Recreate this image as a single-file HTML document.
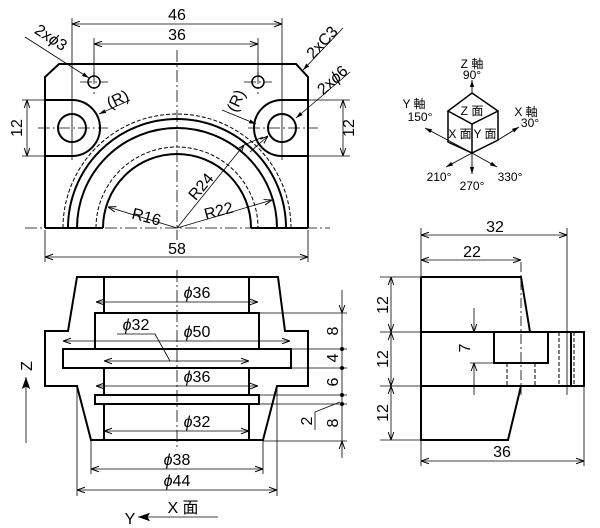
<!DOCTYPE html>
<html><head><meta charset="utf-8"><style>
html,body{margin:0;padding:0;background:#fff}
svg{display:block}
text{font-family:"Liberation Sans","Noto Sans CJK JP",sans-serif;fill:#000}
</style></head><body>
<svg width="600" height="528" viewBox="0 0 600 528" xmlns="http://www.w3.org/2000/svg">
<defs>
<marker id="a" viewBox="0 0 10 10" refX="10" refY="5" markerWidth="8" markerHeight="8" orient="auto-start-reverse" markerUnits="userSpaceOnUse"><path d="M0,1.5 L10,5 L0,8.5" fill="none" stroke="#000" stroke-width="1.2"/></marker>
<marker id="f" viewBox="0 0 10 10" refX="10" refY="5" markerWidth="12" markerHeight="12" orient="auto" markerUnits="userSpaceOnUse"><path d="M0,1.5 L10,5 L0,8.5 L2,5z" fill="#000"/></marker>
<marker id="s" viewBox="0 0 10 10" refX="10" refY="5" markerWidth="7" markerHeight="7" orient="auto" markerUnits="userSpaceOnUse"><path d="M0,2 L10,5 L0,8z" fill="#000"/></marker>
</defs>

<!-- ============ TOP VIEW ============ -->
<g fill="none" stroke="#000" stroke-width="2">
<path d="M45,228 L45,77 L59,64 L296,64 L308,77 L308,228"/>
<path d="M45,100 L72,100 A28,28 0 0 1 72,156 L45,156"/>
<path d="M308,100 L282,100 A28,28 0 0 0 282,156 L308,156"/>
<circle cx="72" cy="128" r="14"/>
<circle cx="282" cy="128" r="14"/>
<circle cx="94" cy="82" r="6" stroke-width="1.5"/>
<circle cx="258" cy="82" r="6" stroke-width="1.5"/>
<path d="M103,228 A74,74 0 0 1 251,228"/>
<path d="M77,228 A100,100 0 0 1 277,228"/>
<path d="M68,228 A109,109 0 0 1 286,228"/>
<path d="M45,228 L103,228 M251,228 L308,228"/>
</g>
<g fill="none" stroke="#000" stroke-width="1" stroke-dasharray="4,2">
<path d="M96,228 A81,81 0 0 1 258,228"/>
<path d="M63,228 A114,114 0 0 1 291,228"/>
</g>
<g fill="none" stroke="#000" stroke-width="0.8" stroke-dasharray="12,3,2,3">
<path d="M25,228 L330,228"/>
<path d="M177,50 L177,240"/>
<path d="M38,128 L108,128 M248,128 L318,128"/>
<path d="M80,82 L108,82 M244,82 L272,82 M94,72 L94,94 M258,72 L258,94"/>
</g>
<g fill="none" stroke="#000" stroke-width="0.8">
<path d="M72,18 L72,160 M282,18 L282,160"/>
<path d="M94,38 L94,76 M258,38 L258,76"/>
<path d="M72,24 L282,24" marker-start="url(#a)" marker-end="url(#a)"/>
<path d="M94,44 L258,44" marker-start="url(#a)" marker-end="url(#a)"/>
<path d="M45,230 L45,262 M308,230 L308,262"/>
<path d="M45,257 L308,257" marker-start="url(#a)" marker-end="url(#a)"/>
<path d="M22,100 L45,100 M22,156 L45,156 M308,100 L350,100 M308,156 L350,156"/>
<path d="M27,100 L27,156" marker-start="url(#a)" marker-end="url(#a)"/>
<path d="M343,100 L343,156" marker-start="url(#a)" marker-end="url(#a)"/>
<path d="M25,37 L89,78" marker-end="url(#s)"/>
<path d="M343,28 L303,70" marker-end="url(#s)"/>
<path d="M350,72 L296,118" marker-end="url(#s)"/>
<path d="M130,100 L99,114" marker-end="url(#s)"/>
<path d="M222,110 L256,124" marker-end="url(#s)"/>
<path d="M177,228 L244,145" marker-end="url(#a)"/>
<path d="M244,145 L263,137" />
<path d="M250,152 L268,136" marker-end="url(#a)"/>
<path d="M177,228 L108,207" marker-end="url(#a)"/>
<path d="M177,228 L272,200" marker-end="url(#a)"/>
</g>
<g font-size="16">
<text x="177" y="20" text-anchor="middle">46</text>
<text x="177" y="40" text-anchor="middle">36</text>
<text x="177" y="254" text-anchor="middle">58</text>
<text transform="translate(22,128) rotate(-90)" text-anchor="middle">12</text>
<text transform="translate(348,128) rotate(-90)" text-anchor="middle" dy="6">12</text>
<text transform="translate(48,42) rotate(33)" text-anchor="middle">2x<tspan font-style="italic">ϕ</tspan>3</text>
<text transform="translate(326,46) rotate(-47)" text-anchor="middle">2xC3</text>
<text transform="translate(336,84) rotate(-42)" text-anchor="middle">2x<tspan font-style="italic">ϕ</tspan>6</text>
<text transform="translate(120,104) rotate(-25)" text-anchor="middle">(R)</text>
<text transform="translate(241,103) rotate(-65)" text-anchor="middle">(R)</text>
<text transform="translate(205,190) rotate(-50)" text-anchor="middle">R24</text>
<text transform="translate(145,222) rotate(15)" text-anchor="middle">R16</text>
<text transform="translate(220,216) rotate(-15)" text-anchor="middle">R22</text>
</g>

<!-- ============ AXIS ICON ============ -->
<g fill="none" stroke="#000" stroke-width="1.5">
<path d="M472,93 L498,111 L472,124 L448,111 Z M448,111 L448,142 L472,153 L498,140 L498,111 M472,124 L472,153"/>
</g>
<g fill="none" stroke="#000" stroke-width="0.9">
<path d="M472,93 L472,80" marker-end="url(#s)"/>
<path d="M472,153 L425,128" marker-end="url(#s)"/>
<path d="M498,140 L519,127" marker-end="url(#s)"/>
<path d="M472,153 L446,167" marker-end="url(#s)"/>
<path d="M472,153 L497,167" marker-end="url(#s)"/>
<path d="M472,153 L472,174" marker-end="url(#s)"/>
</g>
<g font-size="12" text-anchor="middle">
<text x="472" y="68">Z 軸</text>
<text x="472" y="79">90°</text>
<text x="414" y="108">Y 軸</text>
<text x="420" y="121">150°</text>
<text x="526" y="116">X 軸</text>
<text x="530" y="127">30°</text>
<text x="472" y="115">Z 面</text>
<text x="460" y="138">X 面</text>
<text x="485" y="138">Y 面</text>
<text x="439" y="181">210°</text>
<text x="472" y="190">270°</text>
<text x="510" y="181">330°</text>
</g>

<!-- ============ FRONT VIEW ============ -->
<g fill="none" stroke="#000" stroke-width="2">
<path d="M77,277 L278,277 L285,331 L308,331 L308,386 L277,386 L263,440 L91,440 L77,386 L45,386 L45,331 L68,331 Z"/>
<path d="M104,277 L104,313 M249,277 L249,313"/>
<rect x="95" y="313" width="164" height="36"/>
<rect x="63" y="349" width="228" height="19"/>
<path d="M104,368 L104,395 M249,368 L249,395"/>
<rect x="95" y="395" width="164" height="9"/>
<path d="M104,404 L104,440 M249,404 L249,440"/>
</g>
<path d="M177,270 L177,448" stroke="#000" stroke-width="0.8" stroke-dasharray="12,3,2,3"/>
<g fill="none" stroke="#000" stroke-width="0.8">
<path d="M96,302 L258,302" marker-start="url(#a)" marker-end="url(#a)"/>
<path d="M63,341 L290,341" marker-start="url(#a)" marker-end="url(#a)"/>
<path d="M104,361 L249,361" marker-start="url(#a)" marker-end="url(#a)"/>
<path d="M96,386 L258,386" marker-start="url(#a)" marker-end="url(#a)"/>
<path d="M104,431 L249,431" marker-start="url(#a)" marker-end="url(#a)"/>
<path d="M91,440 L91,474 M263,440 L263,474 M77,386 L77,496 M277,386 L277,496"/>
<path d="M91,469 L263,469" marker-start="url(#a)" marker-end="url(#a)"/>
<path d="M77,490 L277,490" marker-start="url(#a)" marker-end="url(#a)"/>
<path d="M117,334 L155,334 L170,361"/>
<path d="M259,313 L347,313 M291,349 L347,349 M291,368 L347,368 M259,395 L347,395 M259,404 L347,404 M263,441 L347,441"/>
<path d="M342,290 L342,313" marker-end="url(#a)"/>
<path d="M342,458 L342,441" marker-end="url(#a)"/>
<path d="M342,313 L342,441"/>
<path d="M315,430 L315,412 L340,402"/>
<path d="M26,443 L26,377" marker-end="url(#f)"/>
<path d="M218,517 L138,517" marker-end="url(#f)"/>
</g>
<g fill="#000"><circle cx="342" cy="349" r="2"/><circle cx="342" cy="368" r="2"/><circle cx="342" cy="395" r="2"/><circle cx="342" cy="404" r="2"/></g>
<g font-size="16" text-anchor="middle">
<text x="197" y="298"><tspan font-style="italic">ϕ</tspan>36</text>
<text x="197" y="337"><tspan font-style="italic">ϕ</tspan>50</text>
<text x="136" y="330"><tspan font-style="italic">ϕ</tspan>32</text>
<text x="197" y="382"><tspan font-style="italic">ϕ</tspan>36</text>
<text x="197" y="427"><tspan font-style="italic">ϕ</tspan>32</text>
<text x="177" y="465"><tspan font-style="italic">ϕ</tspan>38</text>
<text x="177" y="486"><tspan font-style="italic">ϕ</tspan>44</text>
<text x="183" y="513">X 面</text>
<text x="130" y="524">Y</text>
<text transform="translate(338,331) rotate(-90)">8</text>
<text transform="translate(338,358) rotate(-90)">4</text>
<text transform="translate(338,382) rotate(-90)">6</text>
<text transform="translate(338,423) rotate(-90)">8</text>
<text transform="translate(312,421) rotate(-90)">2</text>
<text transform="translate(32,366) rotate(-90)">Z</text>
</g>

<!-- ============ RIGHT VIEW ============ -->
<g fill="none" stroke="#000" stroke-width="2">
<path d="M421,277 L521,277 L530,332 M421,277 L421,440 L508,440 L521,386"/>
<rect x="421" y="332" width="163" height="54"/>
<rect x="494" y="332" width="54" height="31"/>
<path d="M571,332 L571,386"/>
</g>
<g fill="none" stroke="#000" stroke-width="1" stroke-dasharray="4,2">
<path d="M507,363 L507,386 M535,363 L535,386 M559,332 L559,386 M574,332 L574,386"/>
</g>
<path d="M521,262 L521,395" stroke="#000" stroke-width="0.8" stroke-dasharray="10,3,2,3"/>
<g fill="none" stroke="#000" stroke-width="0.8">
<path d="M421,228 L421,466 M567,228 L567,395 M584,386 L584,466"/>
<path d="M421,235 L567,235" marker-start="url(#a)" marker-end="url(#a)"/>
<path d="M421,260 L521,260" marker-start="url(#a)" marker-end="url(#a)"/>
<path d="M421,461 L584,461" marker-start="url(#a)" marker-end="url(#a)"/>
<path d="M380,277 L421,277 M380,332 L421,332 M380,386 L421,386 M380,440 L421,440"/>
<path d="M391,277 L391,332" marker-start="url(#a)" marker-end="url(#a)"/>
<path d="M391,332 L391,386" marker-start="url(#a)" marker-end="url(#a)"/>
<path d="M391,386 L391,440" marker-start="url(#a)" marker-end="url(#a)"/>
<path d="M470,363 L494,363"/>
<path d="M474,308 L474,332" marker-end="url(#a)"/>
<path d="M474,395 L474,363" marker-end="url(#a)"/>
</g>
<g font-size="16" text-anchor="middle">
<text x="495" y="232">32</text>
<text x="472" y="257">22</text>
<text x="502" y="457">36</text>
<text transform="translate(388,305) rotate(-90)">12</text>
<text transform="translate(388,359) rotate(-90)">12</text>
<text transform="translate(388,413) rotate(-90)">12</text>
<text transform="translate(470,348) rotate(-90)">7</text>
</g>
</svg>
</body></html>
